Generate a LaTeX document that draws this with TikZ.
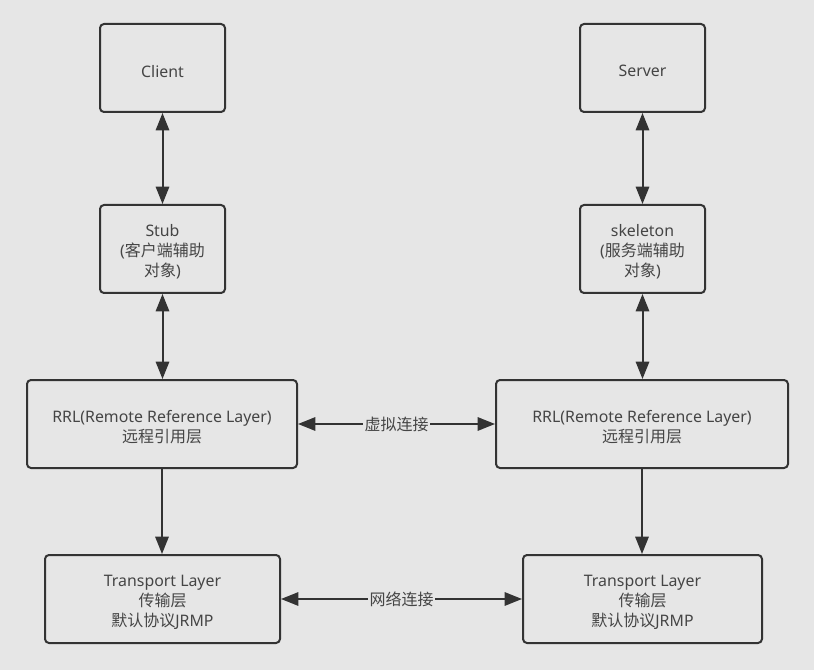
\documentclass[tikz,border=0pt]{standalone}
\usepackage{fontspec}
\setmainfont{Noto Sans}
\newfontfamily\cjkf{Noto Sans CJK SC}
\newcommand{\zh}[1]{{\cjkf\fontsize{12}{15}\selectfont #1}}
\usetikzlibrary{arrows.meta}
\definecolor{bg}{HTML}{E6E6E6}
\definecolor{ln}{HTML}{333333}
\definecolor{tx}{HTML}{454545}
\begin{document}
\begin{tikzpicture}[x=0.75pt,y=-0.75pt,
  txt/.style={text=tx, align=center, font=\fontsize{11.9}{15}\selectfont, inner sep=0pt, yshift=-2.3pt},
  box/.style={draw=ln, line width=1.5pt, rounded corners=3pt, fill=bg,
    inner sep=0pt, minimum height=66pt},
  smallbox/.style={box, minimum width=93.75pt},
  lbl/.style={fill=bg, text=tx, font=\fontsize{12}{15}\selectfont, inner sep=1pt},
  tip/.tip={Triangle[length=13pt,width=10pt]},
  both/.style={draw=ln, line width=1.5pt, tip-tip},
  one/.style={draw=ln, line width=1.5pt, -tip}
]
\fill[bg] (0,0) rectangle (814,670);
\useasboundingbox (0,0) rectangle (814,670);

\node[smallbox, label={[txt]center:Client}] (client) at (162.5,68) {};
\node[smallbox, label={[txt]center:{Stub\\(\zh{客户端辅助}\\\zh{对象})}}] (stub) at (162.5,249) {};
\node[smallbox, label={[txt]center:Server}] (server) at (642.5,68) {};
\node[smallbox, label={[txt]center:{skeleton\\(\zh{服务端辅助}\\\zh{对象})}}] (skel) at (642.5,249) {};
\node[box, minimum width=202.5pt, label={[txt]center:{RRL(Remote Reference Layer)\\\zh{远程引用层}}}] (rrlL) at (162,424) {};
\node[box, minimum width=219pt, label={[txt]center:{RRL(Remote Reference Layer)\\\zh{远程引用层}}}] (rrlR) at (642,424) {};
\node[box, minimum width=176.25pt, label={[txt]center:{Transport Layer\\\zh{传输层}\\\zh{默认协议}JRMP}}] (tlL) at (162.5,599) {};
\node[box, minimum width=179.25pt, label={[txt]center:{Transport Layer\\\zh{传输层}\\\zh{默认协议}JRMP}}] (tlR) at (642.5,599) {};

\draw[both] (client.south) -- (stub.north);
\draw[both] (stub.south) -- (stub.south |- rrlL.north);
\draw[one] (rrlL.south) -- (rrlL.south |- tlL.north);
\draw[both] (server.south) -- (skel.north);
\draw[both] (skel.south) -- (skel.south |- rrlR.north);
\draw[one] (rrlR.south) -- (rrlR.south |- tlR.north);
\draw[both] (rrlL.east) -- node[lbl] (v) {\zh{虚拟连接}} (rrlR.west);
\draw[both] (tlL.east) -- node[lbl] (n) {\zh{网络连接}} (tlR.west);
\end{tikzpicture}
\end{document}
